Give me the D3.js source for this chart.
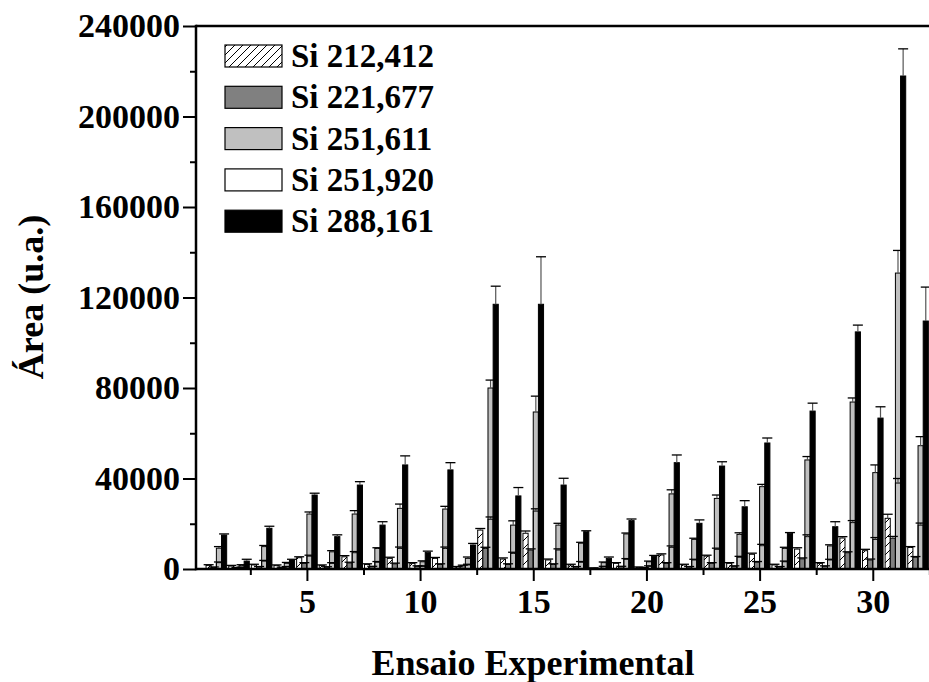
<!DOCTYPE html>
<html lang="pt">
<head>
<meta charset="utf-8">
<title>Área por ensaio experimental</title>
<script src="https://d3js.org/d3.v7.min.js"></script>
<style>
  html, body { margin: 0; padding: 0; background: #fff; }
  svg { display: block; }
</style>
</head>
<body>
<svg width="929" height="682"></svg>
<script>
// ensaios 1..32
const ensaios = d3.range(1, 33);
const series = ["Si 212,412", "Si 221,677", "Si 251,611", "Si 251,920", "Si 288,161"];

// valores (u.a.)
const si212 = [1600,1300,1800,1500,5000,1500,5400,2000,4700,2500,4700,900,17200,4400,15800,4000,1800,300,2500,700,6200,1800,5700,2500,6500,1800,8800,2500,13700,8100,22400,9500];
const si221 = [700,500,900,600,2500,800,2700,1000,2300,1200,2000,1500,9100,2000,8400,2000,900,200,1000,500,2500,900,2500,1200,3000,900,4500,1200,7200,4000,13600,5200];
const si251a = [9200,1500,9900,2500,24300,7600,24300,9100,26800,3200,26500,4700,80000,19400,69400,19400,11400,2800,15500,3200,33200,13100,31200,15300,36400,9100,48200,10200,73800,42600,130800,54500];
const si251b = [2800,600,3500,900,5700,2500,7200,3000,9100,1200,9100,1800,22000,6900,25600,8400,3000,1000,4300,1200,9600,4000,8700,5200,10300,3200,14300,4000,20500,13100,38000,19400];
const si288 = [15000,3500,18000,4000,32700,14300,37100,19400,46000,7400,43800,10600,117000,32300,117000,37100,16500,4700,21400,5700,47000,20200,45500,27500,55700,15800,69800,18700,104800,66700,217900,109600];

// desvios (barras de erro, só para cima)
const err212 = [300,300,300,300,400,300,500,300,500,300,400,200,700,500,1000,400,300,200,300,200,500,300,400,300,500,300,600,300,600,600,1800,400];
const err221 = [200,200,200,200,300,200,300,200,300,200,300,200,500,300,500,300,200,100,200,100,300,200,300,200,300,200,400,200,400,400,800,300];
const err251a = [700,400,500,400,900,500,1500,300,1900,400,1200,600,3500,1900,7000,800,400,300,400,300,1800,500,1500,700,1000,500,1500,500,1800,3400,10000,4000];
const err251b = [300,200,300,200,400,300,500,300,600,200,600,300,1000,500,1000,500,300,200,300,200,600,300,500,400,600,300,800,300,900,800,2000,900];
const err288 = [500,800,900,300,800,800,1500,1500,4000,500,3200,700,8000,3700,21000,3000,400,600,700,300,3400,1500,1900,2700,2200,300,3500,2200,3000,5000,12000,15000];

const yTicks = [0, 40000, 80000, 120000, 160000, 200000, 240000];
const yMinor = [20000, 60000, 100000, 140000, 180000, 220000];
const xTicks = [5, 10, 15, 20, 25, 30];
const xMinor = [2.5, 7.5, 12.5, 17.5, 22.5, 27.5, 32.5];

const vals = [si212, si221, si251a, si251b, si288];
const errs = [err212, err221, err251a, err251b, err288];
const fills = ["url(#hatch)", "#808080", "#c0c0c0", "none", "#000"];
// 251,920 fica atrás da 251,611 (mesma posição), como no original
const slotOf = ["a", "b", "c", "c", "d"];

const svg = d3.select("svg");
const mLeft = 196, mTop = 26, mBottom = 569;
const serif = '"Liberation Serif", "Times New Roman", serif';

const x = d3.scaleLinear().domain([0.1, 33.5]).range([mLeft, 952]);
const y = d3.scaleLinear().domain([0, 240000]).range([mBottom, mTop]);
const inner = d3.scaleBand().domain(["a", "b", "c", "d"]).range([-10.3, 10.3]);

const defs = svg.append("defs");
const pat = defs.append("pattern")
  .attr("id", "hatch").attr("patternUnits", "userSpaceOnUse")
  .attr("width", 8).attr("height", 8);
pat.append("rect").attr("width", 8).attr("height", 8).attr("fill", "#fff");
pat.append("path").attr("d", "M0,8L8,0M-2,2L2,-2M6,10L10,6")
  .attr("stroke", "#000").attr("stroke-width", 1);

defs.append("clipPath").attr("id", "plot")
  .append("rect").attr("x", mLeft).attr("y", 0).attr("width", 929 - mLeft).attr("height", mBottom + 1);

const plot = svg.append("g").attr("clip-path", "url(#plot)");

// barras
vals.forEach((v, s) => {
  plot.append("g").selectAll("rect")
    .data(ensaios)
    .join("rect")
    .attr("x", d => x(d) + inner(slotOf[s]))
    .attr("width", inner.bandwidth())
    .attr("y", (d, i) => y(v[i]))
    .attr("height", (d, i) => y(0) - y(v[i]))
    .attr("fill", fills[s])
    .attr("stroke", "#000")
    .attr("stroke-width", 1);
});

// barras de erro
vals.forEach((v, s) => {
  const e = errs[s];
  const g = plot.append("g");
  const cx = d => x(d) + inner(slotOf[s]) + inner.bandwidth() / 2;
  g.selectAll("line.v").data(ensaios).join("line").attr("class", "v")
    .attr("x1", cx).attr("x2", cx)
    .attr("y1", (d, i) => y(v[i])).attr("y2", (d, i) => y(v[i] + e[i]))
    .attr("stroke", "#555").attr("stroke-width", 1.2);
  g.selectAll("line.c").data(ensaios).join("line").attr("class", "c")
    .attr("x1", d => cx(d) - 5).attr("x2", d => cx(d) + 5)
    .attr("y1", (d, i) => y(v[i] + e[i])).attr("y2", (d, i) => y(v[i] + e[i]))
    .attr("stroke", "#000").attr("stroke-width", 1.3);
});

// eixos
svg.append("g").attr("transform", `translate(0,${mBottom})`)
  .call(d3.axisBottom(x).tickValues(xTicks).tickSize(12).tickSizeOuter(0).tickPadding(8));
svg.append("g").attr("transform", `translate(0,${mBottom})`)
  .call(d3.axisBottom(x).tickValues(xMinor).tickSize(6).tickSizeOuter(0).tickFormat(""));
svg.append("g").attr("transform", `translate(${mLeft},0)`)
  .call(d3.axisLeft(y).tickValues(yTicks).tickSize(13).tickSizeOuter(0).tickPadding(3).tickFormat(d3.format("d")));
svg.append("g").attr("transform", `translate(${mLeft},0)`)
  .call(d3.axisLeft(y).tickValues(yMinor).tickSize(6).tickSizeOuter(0).tickFormat(""));

svg.selectAll(".domain").remove();
svg.selectAll(".tick line").attr("stroke", "#000").attr("stroke-width", 2);
svg.selectAll(".tick text")
  .attr("font-family", serif).attr("font-weight", "bold").attr("font-size", 34).attr("fill", "#000");

svg.append("line").attr("x1", mLeft).attr("x2", 929).attr("y1", mBottom).attr("y2", mBottom)
  .attr("stroke", "#000").attr("stroke-width", 2.5);
svg.append("line").attr("x1", mLeft).attr("x2", 929).attr("y1", mTop).attr("y2", mTop)
  .attr("stroke", "#000").attr("stroke-width", 2.5);
svg.append("line").attr("x1", mLeft).attr("x2", mLeft).attr("y1", mTop - 1.2).attr("y2", mBottom + 1.2)
  .attr("stroke", "#000").attr("stroke-width", 2.5);

// títulos
svg.append("text")
  .attr("x", 533).attr("y", 675).attr("text-anchor", "middle")
  .attr("font-family", serif).attr("font-weight", "bold").attr("font-size", 36).text("Ensaio Experimental");
svg.append("text")
  .attr("transform", "translate(43,297) rotate(-90)").attr("text-anchor", "middle")
  .attr("font-family", serif).attr("font-weight", "bold").attr("font-size", 36).text("Área (u.a.)");

// legenda
const leg = svg.append("g");
series.forEach((name, s) => {
  const cy = 56 + s * 41.3;
  leg.append("rect").attr("x", 225).attr("y", cy - 11).attr("width", 57).attr("height", 22)
    .attr("fill", fills[s] === "none" ? "#fff" : fills[s]).attr("stroke", "#000").attr("stroke-width", 1.2);
  leg.append("text")
    .attr("x", 291).attr("y", cy + 11)
    .attr("font-family", serif).attr("font-weight", "bold").attr("font-size", 33).text(name);
});
</script>
</body>
</html>
